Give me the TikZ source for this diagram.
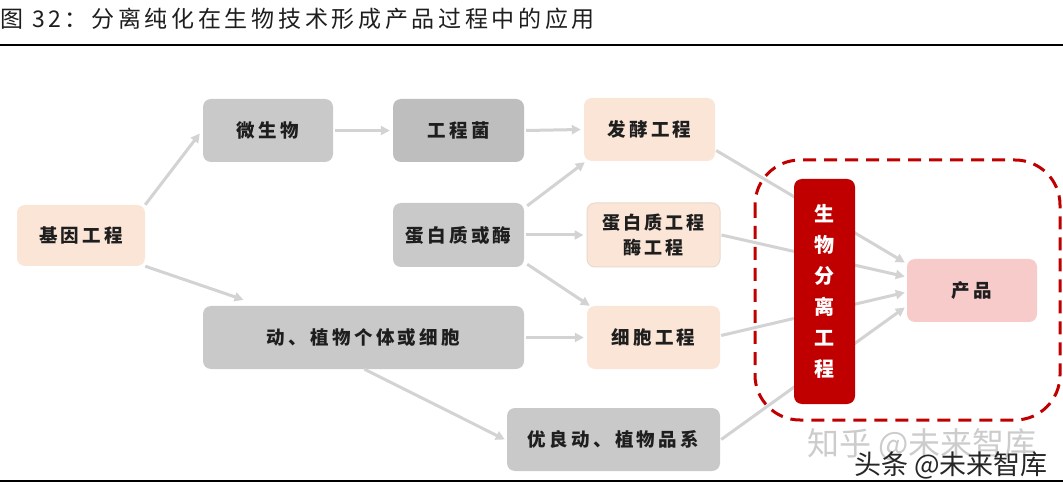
\documentclass[tikz,border=0pt]{standalone}
\usepackage{fontspec}
\newfontfamily\cjk[LetterSpace=18]{Noto Sans CJK SC}
\newfontfamily\cjktitle[LetterSpace=16]{Noto Sans CJK SC}
\newfontfamily\cjkplain{Noto Sans CJK SC}
\usetikzlibrary{arrows.meta}
\definecolor{peach}{HTML}{FBE5D6}
\definecolor{grayA}{HTML}{C9C9C9}
\definecolor{grayB}{HTML}{BEBEBE}
\definecolor{arrowc}{HTML}{D3D3D3}
\definecolor{darkred}{HTML}{C00000}
\definecolor{pinkp}{HTML}{F8CBCB}
\definecolor{txt}{HTML}{1E1E1E}
\definecolor{pborder}{HTML}{EADACD}
\tikzset{
  box/.style={rectangle, rounded corners=8, inner sep=0, text=txt, align=center,
    font=\cjk\bfseries\fontsize{18.5}{26}\selectfont},
  conn/.style={draw=arrowc, line width=3, -{Triangle[length=9,width=9]}},
}
\begin{document}
\begin{tikzpicture}[x=1pt,y=-1pt]
\useasboundingbox (0,0) rectangle (1063,494);
\fill[white] (0,0) rectangle (1063,494);
% title
\node[anchor=west, inner sep=0, text=txt, font=\cjktitle\fontsize{23}{26}\selectfont] (title) at (0,19) {图 32：分离纯化在生物技术形成产品过程中的应用};
\draw[line width=2.5, black] (0,45) -- (1063,45);
\draw[line width=2.5, black] (0,481) -- (1063,481);

% nodes
\node[box, fill=peach, minimum width=128, minimum height=61] (gene) at (81,235.5) {基因工程};
\node[box, fill=grayA, minimum width=130, minimum height=63] (mic) at (268,130.5) {微生物};
\node[box, fill=grayB, minimum width=131, minimum height=63] (eng) at (458.5,130.5) {工程菌};
\node[box, fill=peach, minimum width=131, minimum height=63] (fer) at (649.5,129.5) {发酵工程};
\node[box, fill=grayA, minimum width=131, minimum height=64] (prot) at (458.5,235) {蛋白质或酶};
\node[box, fill=peach, draw=pborder, line width=1, minimum width=133, minimum height=64,
  font=\cjk\bfseries\fontsize{18}{25}\selectfont] (pe) at (653.5,235) {蛋白质工程\\酶工程};
\node[box, fill=grayA, minimum width=321, minimum height=63] (anim) at (363.5,337.5) {动、植物个体或细胞};
\node[box, fill=peach, minimum width=133, minimum height=63] (cell) at (653.5,337.5) {细胞工程};
\node[box, fill=grayA, minimum width=213, minimum height=63] (good) at (613.5,439.5) {优良动、植物品系};
\node[box, fill=pinkp, minimum width=130, minimum height=63] (prod) at (972,290.5) {产品};

% connectors
\draw[conn] (gene.north east) -- ([shift={(-3,3)}]mic.west);
\draw[conn] (gene.south east) -- ([shift={(-120,-6)}]anim.north);
\draw[conn] ([xshift=2]mic.east) -- ([xshift=-3]eng.west);
\draw[conn] ([xshift=2]eng.east) -- ([xshift=-3]fer.west);
\draw[conn] ([shift={(3,3)}]prot.north east) -- ([shift={(1,1)}]fer.south west);
\draw[conn] ([xshift=2]prot.east) -- ([xshift=-3]pe.west);
\draw[conn] ([shift={(3,-3)}]prot.south east) -- ([shift={(3,0)}]cell.north west);
\draw[conn] ([xshift=2]anim.east) -- ([xshift=-3]cell.west);
\draw[conn] ([xshift=1]anim.south) -- ([xshift=-2]good.west);

\draw[conn] ([shift={(1,21)}]fer.east) -- ([shift={(-2,-28)}]prod.west);
\draw[conn] ([xshift=1]pe.east) -- ([shift={(-2,-14)}]prod.west);
\draw[conn] ([shift={(1,-2)}]cell.east) -- ([shift={(-2,2)}]prod.west);
\draw[conn] ([xshift=1]good.east) -- ([shift={(-2,17)}]prod.west);

% separation engineering box (on top of lines)
\node[box, fill=darkred, text=white, minimum width=61, minimum height=225,
  font=\cjkplain\bfseries\fontsize{20}{31}\selectfont] (sep) at (824.5,291.5) {生\\物\\分\\离\\工\\程};

% dashed frame
\draw[darkred, line width=3, dash pattern=on 13pt off 8pt, rounded corners=45] (755,160) rectangle (1060,420);

% watermarks
\node[inner sep=0, text=black!20, font=\cjkplain\fontsize{32}{34}\selectfont] (wm1) at (922,445) {知乎 @未来智库};
\node[inner sep=0, text=black!85, font=\cjkplain\fontsize{27}{30}\selectfont] (wm2) at (951,465) {头条 @未来智库};
\end{tikzpicture}
\end{document}
